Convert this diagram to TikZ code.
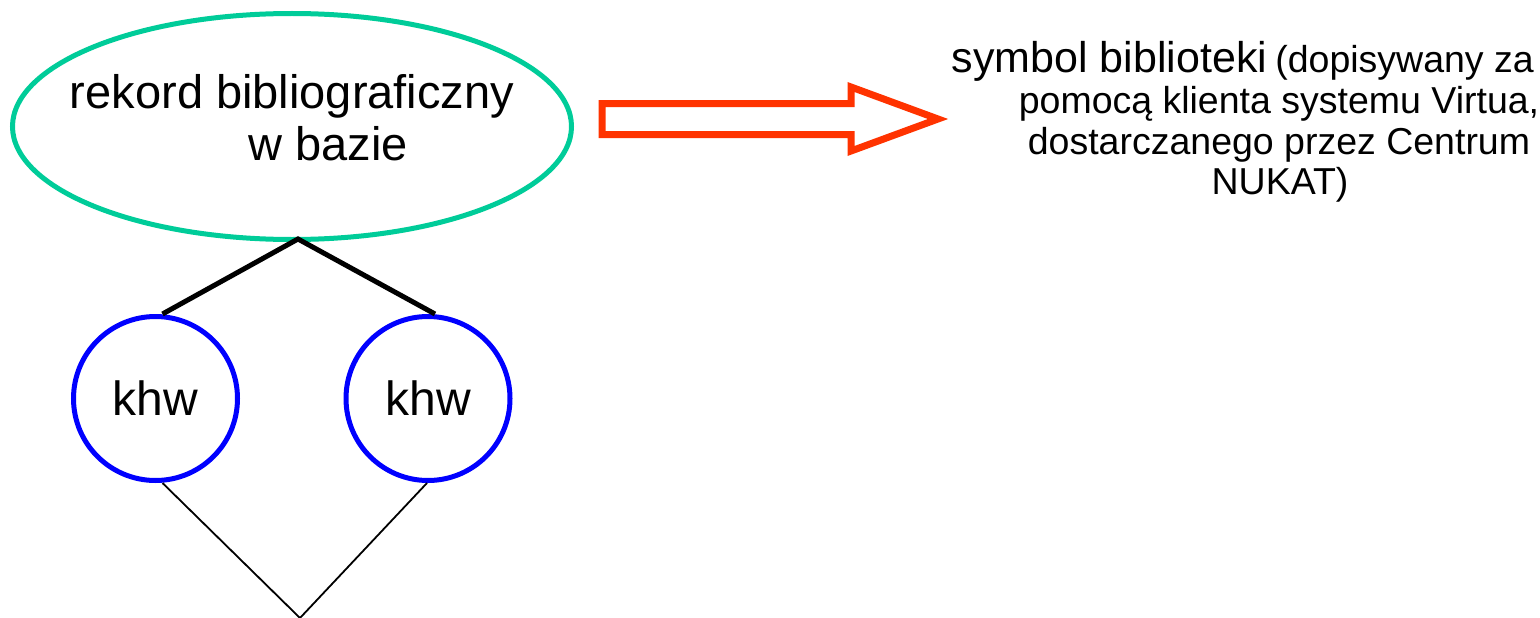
\documentclass[tikz,border=0pt]{standalone}
\usepackage{fontspec}
\setmainfont{Liberation Sans}
\usetikzlibrary{shapes.geometric}
\definecolor{ellcol}{HTML}{00CC99}
\definecolor{circcol}{HTML}{0000FF}
\definecolor{arrcol}{HTML}{FF3300}
\tikzset{
  recbox/.style={ellipse, draw=ellcol, line width=5pt, minimum width=559pt, minimum height=226pt, inner sep=0pt},
  khwbox/.style={circle, draw=circcol, line width=5pt, minimum size=164pt, inner sep=0pt, font=\fontsize{48}{52}\selectfont},
  bigtxt/.style={inner sep=0pt, font=\fontsize{47}{52}\selectfont},
  rtxt/.style={inner sep=0pt, anchor=base, font=\fontsize{37.5}{40}\selectfont},
  thickline/.style={line width=5pt},
  thinline/.style={line width=1.8pt},
  bigarrow/.style={draw=arrcol, line width=7pt, miter limit=10}
}
\begin{document}
\begin{tikzpicture}[x=1pt,y=-1pt]
\useasboundingbox (0,0) rectangle (1540,618);
\node[recbox] (rec) at (292,126.5) {};
\node[bigtxt, anchor=base] (t1) at (292,108) {rekord bibliograficzny};
\node[bigtxt, anchor=base] (t2) at (328,160) {w bazie};
\node[khwbox] (k1) at (155.5,398.5) {khw};
\node[khwbox] (k2) at (428,398.5) {khw};
\coordinate (apex) at (298,239);
\coordinate (bot) at (300,618);
\draw[thickline] ([xshift=7pt]k1.north) -- (apex) -- ([xshift=7pt]k2.north);
\draw[thinline] ([xshift=7pt]k1.south) -- (bot) -- ([xshift=-1pt]k2.south);
\draw[bigarrow] (602,103.5) -- (851,103.5) -- (851,87) -- (938,119) -- (851,151) -- (851,134.5) -- (602,134.5) -- cycle;
\node[inner sep=0pt, anchor=base east] (r1) at (1534,73) {{\fontsize{43}{44}\selectfont symbol biblioteki}\hspace{8pt}{\fontsize{37.5}{40}\selectfont(dopisywany za}};
\node[rtxt] (r2) at (1279,113.5) {pomocą klienta systemu Virtua,};
\node[rtxt] (r3) at (1279,154) {dostarczanego przez Centrum};
\node[rtxt] (r4) at (1280,194.5) {NUKAT)};
\end{tikzpicture}
\end{document}
